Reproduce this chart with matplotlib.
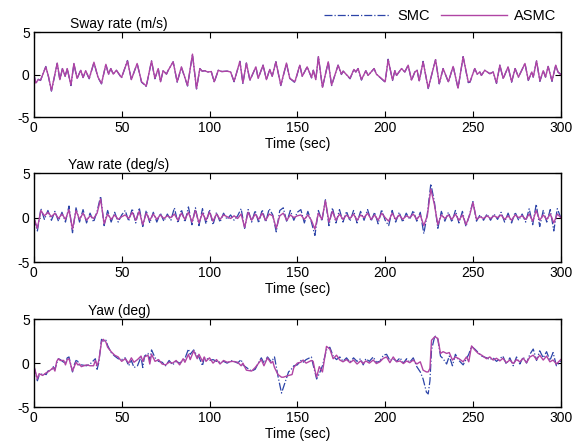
import numpy as np
import matplotlib.pyplot as plt

plt.rcParams['font.family'] = ['Liberation Sans', 'DejaVu Sans']
plt.rcParams['axes.unicode_minus'] = False

# Sway rate (m/s): knots (time, ASMC, SMC)
sway_t = [0, 1.1, 2.5, 3.8, 6.8, 8.3, 10, 13.3, 14.8, 16.3, 17.8, 19, 21.1, 22.8, 24.6, 26.7, 28, 29.5,
          31.5, 34.2, 36.5, 38.5, 41, 42.5, 43.8, 45.2, 47, 49.9, 53.3, 55.5, 58.8, 61.3, 64, 67, 68.9,
          70.8, 72.1, 73.6, 75.5, 76.5, 79.3, 81.6, 84, 87.5, 90.3, 92.6, 94.5, 95.8, 97.3, 99, 101,
          102.7, 105, 107, 110, 112, 114, 117.3, 119, 121, 123, 126.4, 127.7, 130.5, 132.4, 134.3,
          135.7, 137.8, 140.6, 143.8, 145.7, 148.6, 151.4, 152.8, 155.6, 158.1, 159.1, 160.5, 162,
          164.3, 167.6, 169.5, 173.2, 175.1, 176.1, 180, 182.2, 183.3, 184.6, 186.5, 189, 190.3,
          193.7, 195, 200, 201.7, 204.2, 205.5, 206.5, 209.3, 211.2, 213.1, 215, 216.9, 218.2, 219.4,
          221.6, 224.5, 228.7, 230.8, 233, 236, 238.7, 241.5, 244.4, 247.3, 248.3, 251, 252.4, 253.9,
          254.8, 256.7, 259.6, 261.5, 263.4, 265.3, 267.2, 270, 272, 274, 275.9, 279.6, 281.5, 283.5,
          284.3, 286.2, 288.1, 290, 291.3, 292.8, 295, 297.1, 298.4, 300]
sway_asmc = [0.0, -1.0, -0.6, -0.65, 0.9, -0.2, -1.9, 1.35, -0.6, 0.7, -0.2, 0.7, -1.25, 1.3, -0.45, 0.5,
             -0.35, 0.45, -0.45, 1.45, -0.3, -1.05, 1.2, 0.05, 0.7, 0.05, 0.5, -0.35, 1.6, -0.6, 1.3,
             -0.85, -1.35, 1.6, -0.45, 0.7, -0.85, 0.45, 0.05, 0.5, 1.5, -0.85, 0.9, -1.3, 2.4, -1.65,
             0.7, 0.4, 0.45, 0.3, 0.35, -0.85, 0.5, 0.35, 0.4, 0.3, -0.8, 1.55, -1.0, 1.35, -0.65, 0.9,
             -0.45, 1.1, -0.6, 0.6, -0.2, 1.5, -1.25, 1.35, -0.45, -0.85, 1.1, -0.2, 0.9, -0.35, 0.5,
             -0.6, 2.1, -1.5, 1.5, -1.25, 1.1, 0.05, 0.4, -0.45, 0.6, 0.3, 0.7, -0.6, 0.45, -0.1, 0.7,
             0.05, -0.85, 1.75, -0.65, 0.45, -0.1, 0.7, 0.3, 1.1, -0.65, 0.3, 0.5, -0.75, 1.5, -1.6,
             1.75, -1.05, 0.7, -0.85, 0.95, -1.6, 2.1, -0.85, -0.85, 0.7, 0.05, 0.3, -0.1, 0.5, 0.1,
             0.3, -1.0, 1.1, -0.45, 0.9, -0.85, 0.7, -0.3, 1.3, -0.65, 0.3, -0.3, 1.6, -0.75, 0.45,
             -0.3, 0.95, -0.75, 1.1, 0.3, 0.0]
sway_smc = [0.0, -1.05, -0.55, -0.7, 0.95, -0.25, -1.95, 1.3, -0.65, 0.75, -0.2, 0.7, -1.3, 1.25, -0.5, 0.55,
            -0.35, 0.4, -0.5, 1.4, -0.35, -1.1, 1.2, 0.0, 0.7, 0.05, 0.5, -0.4, 1.65, -0.6, 1.3,
            -0.9, -1.4, 1.6, -0.5, 0.7, -0.85, 0.45, 0.05, 0.5, 1.5, -0.9, 0.85, -1.35, 2.35, -1.7,
            0.7, 0.4, 0.45, 0.3, 0.35, -0.9, 0.5, 0.35, 0.4, 0.3, -0.85, 1.55, -1.05, 1.35, -0.7, 0.9,
            -0.45, 1.1, -0.6, 0.6, -0.2, 1.5, -1.3, 1.3, -0.45, -0.95, 1.1, -0.2, 0.9, -0.4, 0.5,
            -0.6, 2.1, -1.55, 1.5, -1.3, 1.1, 0.0, 0.4, -0.5, 0.6, 0.3, 0.7, -0.65, 0.45, -0.1, 0.7,
            0.05, -0.9, 1.8, -0.7, 0.45, -0.1, 0.7, 0.3, 1.1, -0.7, 0.3, 0.5, -0.8, 1.55, -1.65,
            1.75, -1.1, 0.7, -0.9, 1.0, -1.65, 2.1, -0.95, -0.9, 0.7, 0.05, 0.3, -0.1, 0.5, 0.1,
            0.3, -1.05, 1.1, -0.5, 0.9, -0.9, 0.7, -0.3, 1.3, -0.7, 0.3, -0.3, 1.6, -0.8, 0.45,
            -0.3, 0.95, -0.8, 1.1, 0.3, 0.0]

# Yaw rate (deg/s): values every 2 s
rate_t = np.arange(0, 301, 2)
rate_asmc = [0, -1.2, 0.8, 0.2, 0.6, 0.1, 0.5, -0.1, 0.4, -0.2, 0.9, -1.3, 0.8, -0.2, 0.5, -0.3, 0.2, -0.1,
             0.5, 2.1, -0.7, 0.4, -0.2, 0.3, -0.2, 0.1, 0.3, -0.1, 0.6, -0.3, 0.7, -0.8, 0.5, -0.3, 0.4,
             -0.2, 0.3, -0.1, 0.2, 0.0, 0.4, -0.3, 0.5, -0.2, 0.6, -0.5, 0.8, -0.6, 0.5, -0.3, 0.6, -0.4,
             0.4, -0.2, 0.3, 0.1, -0.1, 0.2, -0.1, 0.4, -1.1, 0.6, -0.3, 0.4, -0.2, 0.5, -0.3, 0.4, 0.2,
             -1.2, 0.2, 0.5, -0.3, 0.3, 0.0, 0.2, 0.3, -0.2, 0.3, -0.3, -1.3, 0.5, -0.2, 1.9, -0.5, 0.7,
             -0.3, 0.4, -0.2, 0.3, -0.1, 0.4, -0.3, 0.3, 0.0, 0.5, -0.2, 0.3, -0.3, 0.5, 0.0, -0.4, 0.5,
             -0.2, 0.3, -0.2, 0.2, 0.0, 0.4, -0.2, 0.3, -0.9, 0.2, 3.2, 1.5, -0.8, 0.3, -0.1, 0.3, -0.2,
             0.4, -0.3, 0.3, -0.8, 0.2, 1.7, -0.2, 0.1, -0.1, 0.2, -0.1, 0.2, 0.0, 0.3, -0.2, 0.2, -0.3,
             0.3, 0.0, 0.2, -0.2, 0.4, -0.4, 0.8, -0.3, 0.3, -0.2, 0.4, -0.6, 0.4, 0.0]
rate_smc = [0, -1.5, 1.0, -0.2, 0.8, -0.3, 0.7, -0.4, 0.6, -0.5, 1.3, -1.7, 1.1, -0.5, 0.9, -0.6, 0.5, -0.5,
            0.7, 2.4, -0.9, 0.8, -0.5, 0.6, -0.5, 0.3, 0.8, -0.4, 1.0, -0.6, 1.1, -1.0, 0.8, -0.6, 0.6,
            -0.5, 0.5, -0.4, 0.4, -0.3, 1.1, -0.6, 0.9, -0.5, 1.2, -0.8, 1.1, -0.9, 1.0, -0.7, 0.9, -0.8,
            0.6, -0.5, 0.5, -0.2, 0.3, -0.3, 0.2, 1.0, -1.2, 0.9, -0.5, 0.8, -0.6, 0.9, -0.5, 1.0, 0.3,
            -1.6, 0.8, 1.1, -0.5, 0.8, -0.3, 0.6, 0.9, -0.6, 0.7, -0.5, -2.0, 0.8, -0.4, 2.0, -0.9, 1.1,
            -0.6, 0.9, -0.5, 0.7, -0.4, 0.8, -0.6, 0.7, -0.3, 0.9, -0.4, 0.6, -0.7, 0.9, -0.3, -0.9, 0.8,
            -0.5, 0.6, -0.5, 0.5, -0.2, 0.8, -0.4, 0.6, -1.8, 0.4, 3.8, 1.8, -1.2, 0.7, -0.4, 0.6, -0.5,
            0.8, -0.6, 0.7, -1.0, 0.3, 1.8, -0.4, 0.3, -0.3, 0.4, -0.3, 0.4, -0.2, 0.6, -0.5, 0.5, -0.6,
            0.6, -0.3, 0.4, -0.5, 1.0, -0.8, 1.5, -1.0, 0.8, -0.5, 0.9, -1.5, 1.0, 0.0]

# Yaw (deg): knots (time, ASMC, SMC)
yaw_t = [0, 2, 3, 5, 7, 8, 10, 11, 12, 13, 14, 15, 17, 18, 19, 20, 22, 23, 24, 25, 26, 27, 30, 32, 34, 35,
         36, 37, 38.5, 39.5, 41, 42, 44, 46, 48, 50, 52, 54, 55.5, 57, 59, 61, 62, 63, 65, 66, 67, 69,
         71, 73, 75, 77, 79, 81, 83, 85, 86, 88, 89, 91, 93, 94, 96, 97, 98, 100, 102, 104, 106, 108,
         110, 113, 116, 118, 119, 121, 124, 126, 128, 129.5, 131, 133, 135, 136, 137, 139, 141, 142,
         145, 147, 148, 150, 152, 153.3, 155, 158, 159, 160, 161, 162.5, 164.3, 166.6, 168.5, 170.4,
         172.3, 174.2, 176, 178, 180, 182, 184, 186, 187.5, 189, 191, 193.2, 195, 197, 199, 200.8,
         202.7, 204.6, 206.5, 208.5, 210.4, 212.2, 214, 216, 218, 220, 221.6, 223.5, 224.5, 225.5,
         226.4, 228.3, 230, 231.5, 233, 235, 236.5, 238.3, 240, 242, 244.4, 246.3, 247.6, 249.2, 251,
         253, 255, 257.7, 259.6, 261.5, 263.4, 265.3, 267, 269, 271, 272.9, 274.8, 276.7, 278.6,
         280.5, 282.4, 284.3, 286.2, 288, 290, 291.9, 293.8, 295.6, 297.5, 300]
yaw_asmc = [-0.3, -1.8, -1.2, -1.4, -1.1, -1.0, -0.7, -0.5, -0.9, 0.2, 0.5, 0.3, 0.3, -0.2, 0.4, 0.5, -0.9,
            -0.4, 0.1, -0.2, -0.1, -0.4, -0.2, -0.3, -0.3, 0.3, -0.3, 0.3, 2.4, 2.7, 2.4, 1.8, 1.3, 0.9,
            0.7, 0.2, 0.5, 0.0, 0.6, 0.1, 0.4, 0.8, 0.2, 0.7, 0.9, -0.1, 1.0, 0.2, 0.4, -0.1, -0.2, 0.1,
            0.0, 0.3, -0.2, 0.5, 0.1, 1.0, 0.4, 1.4, 0.5, 1.0, 0.2, 0.7, 0.2, 0.6, 0.0, 0.4, -0.1, 0.3,
            0.1, 0.2, 0.1, -0.3, 0.0, -0.8, -0.9, -0.5, 0.0, 0.4, -0.3, 0.6, 0.0, 0.2, -0.5, -1.3, -1.6,
            -1.6, -1.4, -1.3, -0.5, 0.0, 0.1, 0.35, 0.0, 0.3, 0.2, -0.8, -1.6, -0.4, -1.0, 1.9, 1.6, 0.5,
            0.9, 0.35, 0.15, 0.4, 0.05, 0.35, -0.1, 0.25, -0.05, 0.25, 0.0, 0.35, -0.05, 0.15, 0.55,
            0.7, 0.05, 0.7, 0.15, 0.25, -0.05, 0.25, 0.05, 0.35, -0.1, 0.15, -0.8, -1.0, -1.0, -0.6,
            2.6, 3.0, 2.8, 1.1, 1.3, 1.1, 1.2, 0.35, 0.7, 0.5, 0.15, 0.7, 0.15, 1.95, 1.5, 1.1, 0.9,
            0.5, 0.7, 0.35, 0.55, 0.25, 0.55, 0.05, 0.35, -0.05, 0.4, 0.15, 0.55, 0.05, 0.7, 0.9, 0.4,
            0.9, 0.35, 0.8, 0.15, 0.35, -0.1, 0.4]
yaw_smc = [-0.3, -2.0, -1.4, -1.2, -1.3, -0.9, -0.8, -0.4, -0.7, 0.0, 0.5, 0.4, 0.1, 0.0, 0.6, 0.7, -1.0,
           -0.2, 0.3, 0.2, -0.3, -0.2, -0.3, -0.1, 0.3, 0.5, -0.7, 0.1, 2.7, 2.5, 2.6, 2.0, 1.2, 0.8,
           0.5, 0.4, 0.6, -0.3, 0.3, -0.5, -0.3, 0.7, -0.5, 0.8, 1.1, 0.3, 1.5, 0.6, 0.2, 0.1, -0.3,
           0.3, -0.2, 0.2, 0.0, 0.3, 0.5, 1.6, 1.0, 1.5, 0.8, 0.7, -0.3, 0.6, 0.6, 0.3, 0.4, 0.2, 0.1,
           0.2, 0.0, 0.3, 0.0, 0.4, -0.2, -0.5, -0.9, -0.7, 0.1, 0.6, 0.0, 0.7, 0.2, 0.4, 0.7, -1.5,
           -3.4, -2.8, -1.0, -0.6, -0.3, -0.2, 0.3, 0.1, 0.4, 0.7, -0.2, -1.0, -1.8, -1.2, -0.3, 1.5,
           1.8, 0.8, 0.4, 0.7, 0.2, 0.6, 0.1, 0.6, 0.2, 0.5, -0.2, 0.5, 0.2, 0.7, 0.1, 0.2, 0.9, 1.0,
           0.3, 0.5, 0.2, 0.6, 0.0, 0.5, 0.1, 0.6, -0.4, -1.0, -1.8, -3.3, -3.5, -2.0, 1.5, 3.1, 2.7,
           0.8, 0.5, -0.1, 0.8, -0.3, 1.0, 0.3, -0.2, 0.5, 1.0, 1.9, 1.6, 1.2, 0.8, 0.6, 0.4, 0.6, 0.2,
           0.5, 0.8, -0.1, 0.6, -0.3, 0.7, -0.1, 0.7, 0.0, 1.0, 1.6, 0.3, 1.4, 0.6, 1.3, 0.3, 1.2,
           -0.3, 0.2]

smc_color = '#2c44a8'
asmc_color = '#b044a4'

fig = plt.figure(figsize=(5.74, 4.45), dpi=100)

panels = [
    (sway_t, sway_smc, sway_asmc, 'Sway rate (m/s)', 0.068, [0.059, 0.737, 0.918, 0.191]),
    (rate_t, rate_smc, rate_asmc, 'Yaw rate (deg/s)', 0.065, [0.059, 0.411, 0.918, 0.200]),
    (yaw_t, yaw_smc, yaw_asmc, 'Yaw (deg)', 0.102, [0.059, 0.085, 0.918, 0.198]),
]

for t, smc, asmc, title, tx, rect in panels:
    ax = fig.add_axes(rect)
    l1, = ax.plot(t, smc, color=smc_color, linestyle='-.', linewidth=0.9, label='SMC')
    l2, = ax.plot(t, asmc, color=asmc_color, linestyle='-', linewidth=1.0, label='ASMC')
    ax.set_xlim(0, 300)
    ax.set_ylim(-5, 5)
    ax.set_xticks([0, 50, 100, 150, 200, 250, 300])
    ax.set_yticks([-5, 0, 5])
    ax.tick_params(direction='in', top=True, right=True, length=4, width=0.8, labelsize=10, pad=3)
    for s in ax.spines.values():
        s.set_linewidth(1.0)
    ax.set_xlabel('Time (sec)', fontsize=10, labelpad=1)
    ax.text(tx, 1.01, title, transform=ax.transAxes, fontsize=10, ha='left', va='bottom')

fig.legend(handles=[l1, l2], loc='upper right', bbox_to_anchor=(0.985, 1.0), ncol=2, frameon=False,
           fontsize=10.5, handlelength=4.5, columnspacing=0.8, handletextpad=0.5, borderaxespad=0.2)

fig.savefig('out.png', dpi=100)
